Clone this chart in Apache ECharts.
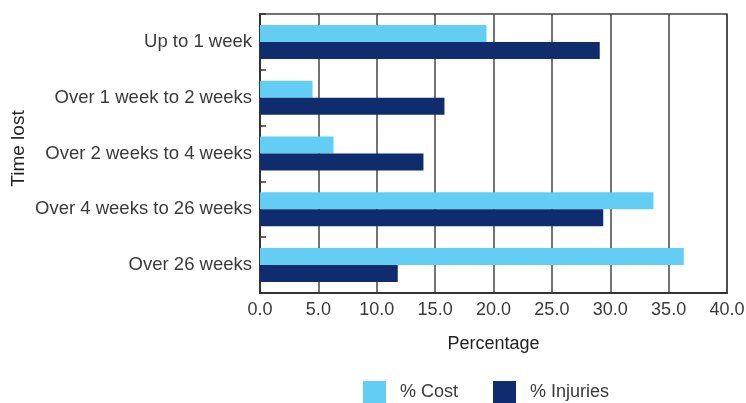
<!DOCTYPE html>
<html>
<head>
<meta charset="utf-8">
<script src="https://cdn.jsdelivr.net/npm/echarts@6/dist/echarts.min.js"></script>
<style>html,body{margin:0;padding:0;background:#fff;}#c{width:746px;height:403px;}</style>
</head>
<body>
<div id="c"></div>
<script>
const categories = ['Up to 1 week', 'Over 1 week to 2 weeks', 'Over 2 weeks to 4 weeks', 'Over 4 weeks to 26 weeks', 'Over 26 weeks'];
const costValues = [19.4, 4.5, 6.3, 33.7, 36.3];
const injuryValues = [29.1, 15.8, 14.0, 29.4, 11.8];
const seriesNames = ['% Cost', '% Injuries'];

const FONT = 'Liberation Sans';
const TXT = '#3a3a3a';
const chart = echarts.init(document.getElementById('c'), null, {renderer: 'canvas'});
chart.setOption({
  animation: false,
  textStyle: {fontFamily: FONT},
  grid: {left: 260, right: 19, top: 14, bottom: 110, show: true, borderColor: '#444', borderWidth: 1.5, containLabel: false, outerBoundsMode: 'none'},
  legend: {
    data: seriesNames,
    left: 363, top: 381, padding: 0,
    itemWidth: 23, itemHeight: 22, itemGap: 35,
    icon: 'rect',
    textStyle: {fontFamily: FONT, fontSize: 18, color: TXT, padding: [0, 0, 0, 9]}
  },
  xAxis: {
    type: 'value', min: 0, max: 40, interval: 5,
    name: 'Percentage', nameLocation: 'middle', nameGap: 42, nameMoveOverlap: false,
    nameTextStyle: {fontFamily: FONT, fontSize: 18, color: '#222'},
    axisLine: {show: true, lineStyle: {color: '#333', width: 2}},
    axisTick: {show: false},
    axisLabel: {fontFamily: FONT, fontSize: 18, color: TXT, margin: 8, formatter: v => v.toFixed(1)},
    splitLine: {show: true, lineStyle: {color: '#444', width: 1.5}}
  },
  yAxis: {
    type: 'category', data: categories, inverse: true,
    name: 'Time lost', nameLocation: 'middle', nameGap: 232, nameRotate: 90, nameMoveOverlap: false,
    nameTextStyle: {fontFamily: FONT, fontSize: 19, color: '#222', padding: [0, 0, 0, 10]},
    axisLine: {show: true, lineStyle: {color: '#333', width: 2}},
    axisTick: {show: true, inside: true, length: 6, lineStyle: {color: '#333', width: 1.5}},
    axisLabel: {fontFamily: FONT, fontSize: 18.5, color: TXT, margin: 8}
  },
  series: [
    {name: seriesNames[0], type: 'bar', data: costValues, barGap: '0%', barCategoryGap: '39%', itemStyle: {color: '#63CDF3'}},
    {name: seriesNames[1], type: 'bar', data: injuryValues, itemStyle: {color: '#0F2C6E'}}
  ]
});
</script>
</body>
</html>
